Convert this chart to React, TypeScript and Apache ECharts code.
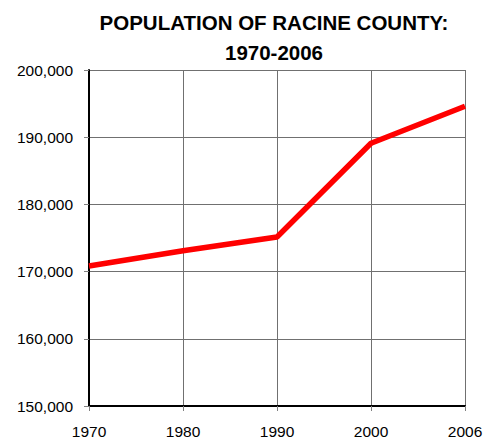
import React, { useEffect, useRef } from "react";
import * as echarts from "echarts";

const years = ["1970", "1980", "1990", "2000", "2006"];
const population = [170838, 173100, 175150, 189100, 194600];
const titleLines = ["POPULATION OF RACINE COUNTY:", "1970-2006"];

export default function App() {
  const ref = useRef<HTMLDivElement>(null);
  useEffect(() => {
    const chart = echarts.init(ref.current!, null, { renderer: "svg" });
    chart.setOption({
      animation: false,
      backgroundColor: "#ffffff",
      title: {
        text: titleLines.join("\n"),
        left: 269,
        top: 2,
        textAlign: "center",
        textStyle: {
          fontFamily: "Liberation Sans, Arial, sans-serif",
          fontWeight: "bold",
          fontSize: 20.5,
          lineHeight: 30,
          color: "#000",
        },
      },
      grid: { left: 89, right: 21, top: 70, bottom: 35, containLabel: false },
      xAxis: {
        type: "category",
        data: years,
        boundaryGap: false,
        axisLine: { lineStyle: { color: "#000", width: 2 } },
        axisTick: { show: true, length: 5, lineStyle: { color: "#808080" } },
        axisLabel: {
          color: "#000",
          fontFamily: "Liberation Sans, Arial, sans-serif",
          fontSize: 15.5,
          margin: 17,
        },
        splitLine: { show: true, lineStyle: { color: "#707070", width: 1 } },
      },
      yAxis: {
        type: "value",
        min: 150000,
        max: 200000,
        interval: 10000,
        axisLine: { show: true, lineStyle: { color: "#000", width: 2 } },
        axisTick: { show: true, length: 5, lineStyle: { color: "#808080" } },
        axisLabel: {
          color: "#000",
          fontFamily: "Liberation Sans, Arial, sans-serif",
          fontSize: 15.5,
          margin: 16,
          formatter: (v: number) => v.toLocaleString("en-US"),
        },
        splitLine: { show: true, lineStyle: { color: "#707070", width: 1 } },
      },
      series: [
        {
          type: "line",
          data: population,
          showSymbol: false,
          symbol: "none",
          lineStyle: { color: "#ff0000", width: 5.5 },
        },
      ],
    });
    return () => chart.dispose();
  }, []);
  return (
    <div
      ref={ref}
      style={{ position: "fixed", left: 0, top: 0, width: 486, height: 441 }}
    />
  );
}
